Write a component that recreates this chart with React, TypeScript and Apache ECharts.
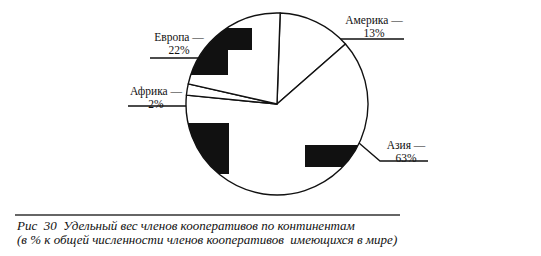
import React, { useEffect, useRef } from "react";
import * as echarts from "echarts";

const categories = ["Америка", "Азия", "Африка", "Европа"];
const shares = [13, 63, 2, 22];
const captionLines = [
  "Рис  30  Удельный вес членов кооперативов по континентам",
  "(в % к общей численности членов кооперативов  имеющихся в мире)",
];

const CX = 277;
const CY = 104;
const R = 91;

function arcPts(y0: number, y1: number, side: number, steps = 12): number[][] {
  const pts: number[][] = [];
  for (let i = 0; i <= steps; i++) {
    const y = y0 + ((y1 - y0) * i) / steps;
    const dy = y - CY;
    const dx = Math.sqrt(Math.max(0, R * R - dy * dy));
    pts.push([CX + side * dx, y]);
  }
  return pts;
}

const labelSpots: Record<number, { x: number; y: number; line: number[][] }> = {
  0: { x: 374, y: 13, line: [[313, 49], [340, 39], [404, 39]] },
  1: { x: 406, y: 138, line: [[352, 137], [380, 161], [428, 161]] },
  2: { x: 156, y: 84, line: [[206, 100], [188, 106], [128, 106]] },
  3: { x: 179, y: 30, line: [[214, 58], [199, 58], [150, 58]] },
};

export default function App() {
  const ref = useRef<HTMLDivElement>(null);
  useEffect(() => {
    if (!ref.current) return;
    const chart = echarts.init(ref.current, undefined, { renderer: "svg" });
    const black = { fill: "#111" };
    chart.setOption({
      animation: false,
      backgroundColor: "#fff",
      graphic: [
        {
          type: "polygon",
          z: 10,
          shape: {
            points: [
              ...arcPts(28, 75, -1),
              [228, 75],
              [228, 50],
              [252, 50],
              [252, 28],
            ],
          },
          style: black,
        },
        {
          type: "polygon",
          z: 10,
          shape: {
            points: [...arcPts(123, 174, -1), [229, 174], [229, 123]],
          },
          style: black,
        },
        {
          type: "polygon",
          z: 10,
          shape: {
            points: [[305, 145], ...arcPts(145, 167, 1), [305, 167]],
          },
          style: black,
        },
        {
          type: "line",
          shape: { x1: 15, y1: 215, x2: 400, y2: 215 },
          style: { stroke: "#333", lineWidth: 1.5 },
        },
        {
          type: "text",
          x: 17,
          y: 218,
          style: {
            text: captionLines.join("\n"),
            fill: "#111",
            font: "italic 13px 'Liberation Serif'",
            lineHeight: 14,
          },
        },
      ],
      series: [
        {
          type: "pie",
          center: [CX, CY],
          radius: [0, R],
          startAngle: 88,
          clockwise: true,
          avoidLabelOverlap: false,
          data: categories.map((c, i) => ({ name: c, value: shares[i] })),
          itemStyle: { color: "#fff", borderColor: "#111", borderWidth: 1.4 },
          emphasis: { disabled: true },
          label: {
            show: true,
            formatter: "{b} —\n{c}%",
            fontFamily: "Liberation Serif",
            fontSize: 11.5,
            lineHeight: 13,
            color: "#111",
            align: "center",
          },
          labelLine: {
            show: true,
            lineStyle: { color: "#111", width: 1.3 },
          },
          labelLayout: (p: any) => {
            const s = labelSpots[p.dataIndex];
            return {
              x: s.x,
              y: s.y,
              align: "center",
              verticalAlign: "top",
              labelLinePoints: s.line,
            };
          },
        },
      ],
    });
    return () => chart.dispose();
  }, []);
  return (
    <div
      ref={ref}
      style={{ position: "fixed", left: 0, top: 0, width: 541, height: 256 }}
    />
  );
}
